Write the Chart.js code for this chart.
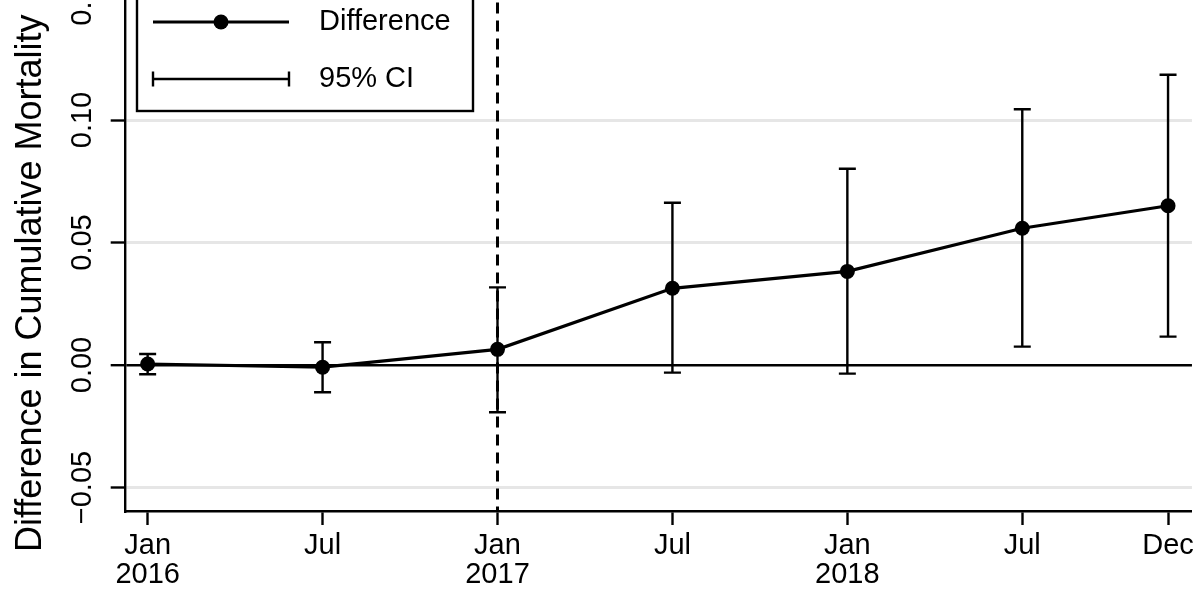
<!DOCTYPE html>
<html>
<head>
<meta charset="utf-8">
<script src="https://cdn.jsdelivr.net/npm/chart.js@4.4.1/dist/chart.umd.min.js"></script>
<style>
  html, body { margin: 0; padding: 0; background: #fff; overflow: hidden; }
  /* the figure is cropped at the top, so the canvas starts above the window */
  #wrap { position: absolute; left: 0; top: -100px; width: 1200px; height: 702px; }
</style>
</head>
<body>
<div id="wrap"><canvas id="chart"></canvas></div>
<script>
// months since Jan 2016
const MONTHS   = [0, 6, 12, 18, 24, 30, 35];
const DIFF     = [0.0004, -0.0009, 0.0064, 0.0313, 0.0382, 0.0558, 0.0650];
const CI_LOW   = [-0.0038, -0.0111, -0.0193, -0.0031, -0.0035, 0.0075, 0.0116];
const CI_HIGH  = [0.0045, 0.0093, 0.0317, 0.0662, 0.0801, 0.1044, 0.1185];

const X_TICKS  = [0, 6, 12, 18, 24, 30, 35];
const X_LABELS = [['Jan', '2016'], 'Jul', ['Jan', '2017'], 'Jul', ['Jan', '2018'], 'Jul', 'Dec'];
const Y_TICKS  = [-0.05, 0, 0.05, 0.10, 0.15];
const POLICY_MONTH = 12;

const Y_TITLE = 'Difference in Cumulative Mortality';
const LEGEND_LINE = 'Difference';
const LEGEND_CI = '95% CI';

const FONT = "'Liberation Sans', Arial, Helvetica, sans-serif";
Chart.defaults.font.family = FONT;
Chart.defaults.color = '#000';

const overlay = {
  id: 'overlay',
  beforeDatasetsDraw(chart) {
    const { ctx, chartArea: a, scales: { x, y } } = chart;
    ctx.save();
    ctx.strokeStyle = '#000';

    // dashed reference line
    const px = x.getPixelForValue(POLICY_MONTH);
    ctx.lineWidth = 3;
    ctx.setLineDash([11, 7]);
    ctx.beginPath();
    ctx.moveTo(px, a.top);
    ctx.lineTo(px, a.bottom);
    ctx.stroke();
    ctx.setLineDash([]);

    // confidence intervals
    ctx.lineWidth = 2.4;
    MONTHS.forEach((m, i) => {
      const cx = x.getPixelForValue(m);
      const lo = y.getPixelForValue(CI_LOW[i]);
      const hi = y.getPixelForValue(CI_HIGH[i]);
      ctx.beginPath();
      ctx.moveTo(cx, lo); ctx.lineTo(cx, hi);
      ctx.moveTo(cx - 8.5, lo); ctx.lineTo(cx + 8.5, lo);
      ctx.moveTo(cx - 8.5, hi); ctx.lineTo(cx + 8.5, hi);
      ctx.stroke();
    });
    ctx.restore();
  },
  afterDraw(chart) {
    const { ctx } = chart;
    ctx.save();

    // legend box
    ctx.fillStyle = '#fff';
    ctx.fillRect(137, 60, 336, 151);
    ctx.strokeStyle = '#000';
    ctx.lineWidth = 2.4;
    ctx.strokeRect(137, 60, 336, 151);

    ctx.lineWidth = 3.2;
    ctx.beginPath();
    ctx.moveTo(153, 122); ctx.lineTo(289, 122);
    ctx.stroke();
    ctx.fillStyle = '#000';
    ctx.beginPath();
    ctx.arc(221, 122, 7.5, 0, Math.PI * 2);
    ctx.fill();

    ctx.lineWidth = 2.4;
    ctx.beginPath();
    ctx.moveTo(153, 179); ctx.lineTo(289, 179);
    ctx.moveTo(153, 171.5); ctx.lineTo(153, 186.5);
    ctx.moveTo(289, 171.5); ctx.lineTo(289, 186.5);
    ctx.stroke();

    ctx.font = '29px ' + FONT;
    ctx.textAlign = 'left';
    ctx.textBaseline = 'middle';
    ctx.fillText(LEGEND_LINE, 319, 122);
    ctx.fillText(LEGEND_CI, 319, 179);

    // y axis title
    ctx.font = '36px ' + FONT;
    ctx.textBaseline = 'alphabetic';
    ctx.translate(41, 652);
    ctx.rotate(-Math.PI / 2);
    ctx.fillText(Y_TITLE, 0, 0);
    ctx.restore();
  }
};

new Chart(document.getElementById('chart'), {
  type: 'line',
  data: {
    datasets: [{
      label: LEGEND_LINE,
      data: MONTHS.map((m, i) => ({ x: m, y: DIFF[i] })),
      borderColor: '#000',
      borderWidth: 3.2,
      pointRadius: 7.5,
      pointBackgroundColor: '#000',
      pointBorderWidth: 0,
      tension: 0,
      clip: false
    }]
  },
  options: {
    responsive: true,
    maintainAspectRatio: false,
    animation: false,
    layout: { padding: { left: 0, right: 5, top: 48.5, bottom: 0 } },
    plugins: { legend: { display: false }, tooltip: { enabled: false } },
    scales: {
      x: {
        type: 'linear',
        min: -0.787,
        max: 35.82,
        afterBuildTicks: s => { s.ticks = X_TICKS.map(v => ({ value: v })); },
        afterFit: s => { s.height = 91; },
        ticks: {
          autoSkip: false,
          maxRotation: 0,
          padding: 6,
          font: { size: 29, lineHeight: 1.0 },
          callback: (v, i) => X_LABELS[i]
        },
        grid: { drawOnChartArea: false, drawTicks: true, tickLength: 14, tickColor: '#000', tickWidth: 2.4 },
        border: { display: true, color: '#000', width: 2.4 }
      },
      y: {
        min: -0.05959,
        max: 0.17,
        afterBuildTicks: s => { s.ticks = Y_TICKS.map(v => ({ value: v })); },
        afterFit: s => { s.width = 124.7; },
        ticks: {
          autoSkip: false,
          minRotation: 90,
          maxRotation: 90,
          crossAlign: 'center',
          padding: -9,
          font: { size: 29 },
          callback: v => (v < 0 ? '\u2212' : '') + Math.abs(v).toFixed(2)
        },
        grid: {
          color: c => (c.tick && c.tick.value === 0 ? '#000' : '#e6e6e6'),
          lineWidth: c => (c.tick && c.tick.value === 0 ? 2.4 : 3),
          tickLength: 14,
          tickColor: '#000',
          tickWidth: 2.4
        },
        border: { display: true, color: '#000', width: 2.4 }
      }
    }
  },
  plugins: [overlay]
});
</script>
</body>
</html>
